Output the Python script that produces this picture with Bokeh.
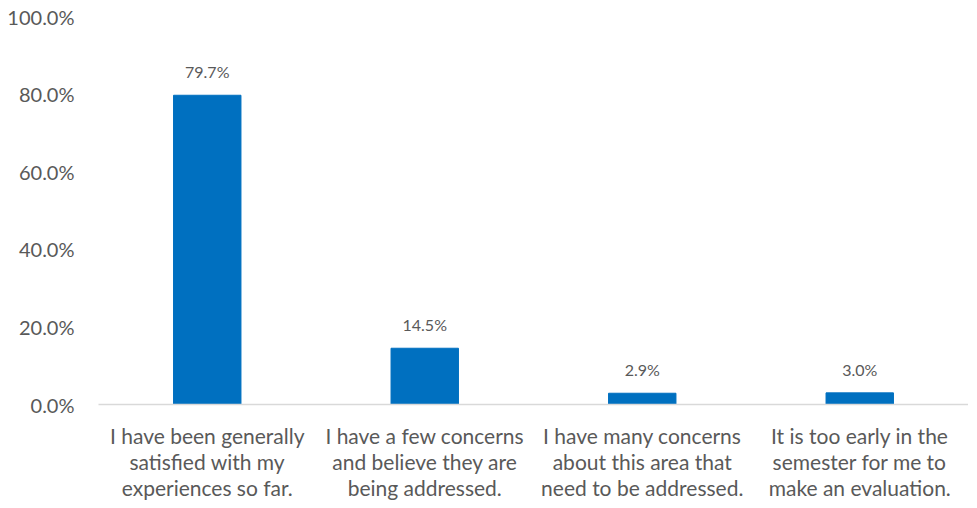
from bokeh.plotting import figure
from bokeh.models import ColumnDataSource, FixedTicker, PrintfTickFormatter, Range1d, LabelSet
from bokeh.core.properties import value
from bokeh.embed import file_html
from bokeh.resources import INLINE

categories = [
    "I have been generally\nsatisfied with my\nexperiences so far.",
    "I have a few concerns\nand believe they are\nbeing addressed.",
    "I have many concerns\nabout this area that\nneed to be addressed.",
    "It is too early in the\nsemester for me to\nmake an evaluation.",
]
values = [79.7, 14.5, 2.9, 3.0]
value_labels = ["79.7%", "14.5%", "2.9%", "3.0%"]
y_ticks = [0, 20, 40, 60, 80, 100]

src = ColumnDataSource(dict(cat=categories, val=values, lab=value_labels))

p = figure(x_range=categories, frame_width=870, frame_height=388, output_backend="svg",
           toolbar_location=None, min_border_left=98, min_border_right=0,
           min_border_top=16, min_border_bottom=0)
p.y_range = Range1d(0, 100)
p.x_range.range_padding = 0

p.vbar(x="cat", top="val", width=0.31, source=src, color="#0070C0")

labels = LabelSet(x="cat", y="val", text="lab", source=src, text_align="center",
                  text_baseline="bottom", y_offset=14, text_font_size="16px",
                  text_color="#595959", text_font=value("Lato"))
p.add_layout(labels)

p.xgrid.visible = False
p.ygrid.visible = False
p.outline_line_color = None

p.yaxis.ticker = FixedTicker(ticks=y_ticks)
p.yaxis.formatter = PrintfTickFormatter(format="%.1f%%")
p.yaxis.axis_line_color = None
p.yaxis.major_tick_line_color = None
p.yaxis.minor_tick_line_color = None
p.yaxis.major_label_text_font = "Lato"
p.yaxis.major_label_text_font_size = "20px"
p.yaxis.major_label_text_color = "#595959"
p.yaxis.major_label_standoff = 18

p.xaxis.axis_line_color = "#D9D9D9"
p.xaxis.axis_line_width = 1.5
p.xaxis.major_tick_line_color = None
p.xaxis.minor_tick_line_color = None
p.xaxis.major_label_text_font = "Lato"
p.xaxis.major_label_text_font_size = "21px"
p.xaxis.major_label_text_color = "#595959"
p.xaxis.major_label_text_line_height = 1.05
p.xaxis.major_label_standoff = 12

open("out.html", "w").write(file_html(p, INLINE))
